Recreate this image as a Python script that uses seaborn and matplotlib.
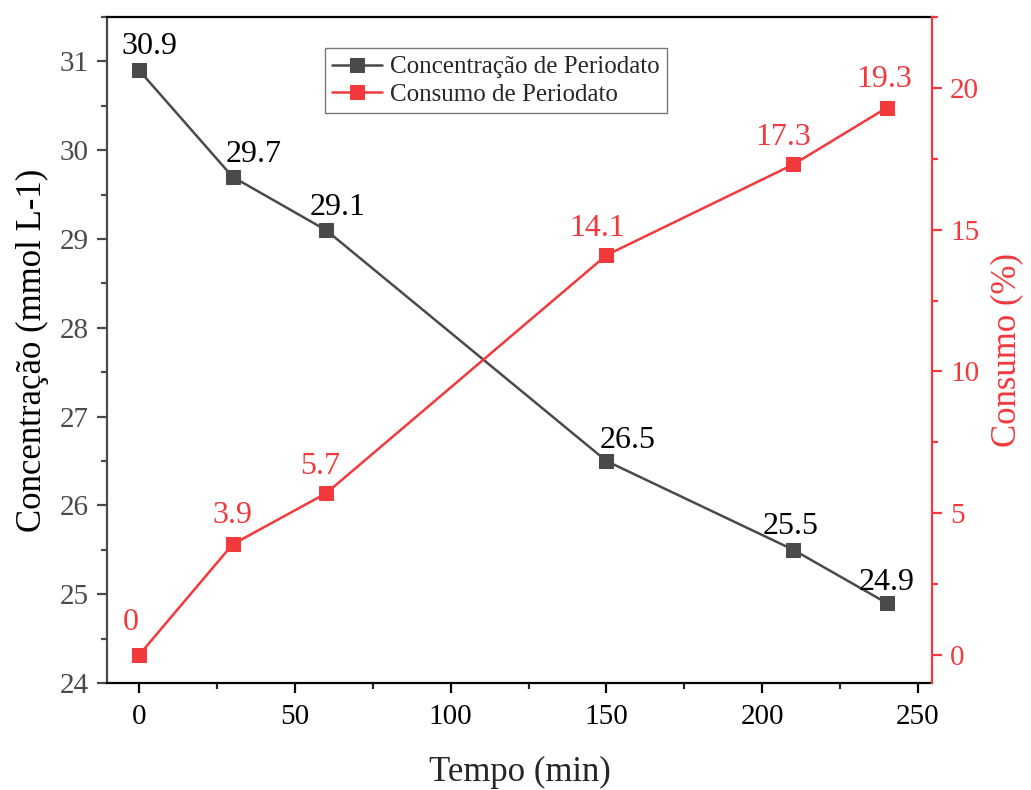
import matplotlib
matplotlib.use("Agg")
import matplotlib.pyplot as plt
import seaborn as sns
from matplotlib.ticker import MultipleLocator, AutoMinorLocator

# data
tempo = [0, 30, 60, 150, 210, 240]
concentracao = [30.9, 29.7, 29.1, 26.5, 25.5, 24.9]
consumo = [0, 3.9, 5.7, 14.1, 17.3, 19.3]
conc_labels = ["30.9", "29.7", "29.1", "26.5", "25.5", "24.9"]
cons_labels = ["0", "3.9", "5.7", "14.1", "17.3", "19.3"]

# label offsets in pixels (dx, dy)
conc_offsets = [(10, 24), (21, 22), (12, 23), (21, 21), (-3, 23), (0, 21)]
cons_offsets = [(-8, 32), (0, 29), (-6, 27), (-9, 27), (-10, 27), (-3, 28)]

GRAY = "#4a4a4a"
RED = "#f2393c"

sns.set_style("ticks")
plt.rcParams["font.family"] = ["Liberation Serif", "DejaVu Serif"]

fig = plt.figure(figsize=(10.31, 7.9), dpi=100)
ax = fig.add_axes([0.1038, 0.1354, 0.8002, 0.8431])
ax2 = ax.twinx()

sns.lineplot(x=tempo, y=concentracao, ax=ax, color=GRAY, marker="s",
             markersize=10, markeredgecolor=GRAY, linewidth=1.8,
             label="Concentração de Periodato", legend=False)
sns.lineplot(x=tempo, y=consumo, ax=ax2, color=RED, marker="s",
             markersize=10, markeredgecolor=RED, linewidth=1.8,
             label="Consumo de Periodato", legend=False)

for x, y, t, (dx, dy) in zip(tempo, concentracao, conc_labels, conc_offsets):
    ax.annotate(t, (x, y), xytext=(dx, dy), textcoords="offset pixels",
                ha="center", va="center", fontsize=23, color="black")
for x, y, t, (dx, dy) in zip(tempo, consumo, cons_labels, cons_offsets):
    ax2.annotate(t, (x, y), xytext=(dx, dy), textcoords="offset pixels",
                 ha="center", va="center", fontsize=23, color=RED)

ax.set_xlim(-10.3, 254.5)
ax.set_ylim(24, 31.5)
ax2.set_ylim(-0.99, 22.5)

ax.xaxis.set_major_locator(MultipleLocator(50))
ax.xaxis.set_minor_locator(AutoMinorLocator(2))
ax.yaxis.set_major_locator(MultipleLocator(1))
ax.yaxis.set_minor_locator(AutoMinorLocator(2))
ax2.yaxis.set_major_locator(MultipleLocator(5))
ax2.yaxis.set_minor_locator(AutoMinorLocator(2))

ax.set_xlabel("Tempo (min)", fontsize=25, labelpad=19)
ax.set_ylabel("Concentração (mmol L-1)", fontsize=25, labelpad=8,
              color="black")
ax2.set_ylabel("Consumo (%)", fontsize=25, color=RED, labelpad=8)

ax.tick_params(axis="x", which="major", direction="out", length=7, width=1.6,
               labelsize=21, colors="black", pad=8)
ax.tick_params(axis="x", which="minor", direction="out", length=4, width=1.6)
ax.tick_params(axis="y", which="major", direction="out", length=7, width=1.6,
               labelsize=21, colors=GRAY, pad=6)
ax.tick_params(axis="y", which="minor", direction="out", length=4, width=1.6,
               colors=GRAY)
ax2.tick_params(axis="y", which="major", direction="out", length=7, width=1.6,
                labelsize=21, colors=RED, pad=6)
ax2.tick_params(axis="y", which="minor", direction="out", length=4, width=1.6,
                colors=RED)

for sp in ["top", "bottom"]:
    ax.spines[sp].set_color("black")
    ax.spines[sp].set_linewidth(1.6)
ax.spines["left"].set_color(GRAY)
ax.spines["left"].set_linewidth(1.6)
ax2.spines["right"].set_color(RED)
ax2.spines["right"].set_linewidth(1.6)
ax2.spines["top"].set_visible(False)
ax2.spines["left"].set_visible(False)
ax2.spines["bottom"].set_visible(False)
ax.spines["right"].set_visible(False)

h1, l1 = ax.get_legend_handles_labels()
h2, l2 = ax2.get_legend_handles_labels()
leg = ax.legend(h1 + h2, l1 + l2, loc="upper left",
                bbox_to_anchor=(0.264, 0.953), borderaxespad=0,
                fontsize=18, frameon=True, fancybox=False,
                edgecolor="#555555", handlelength=2.0, borderpad=0.3,
                labelspacing=0.2, handletextpad=0.3)
leg.get_frame().set_linewidth(1.0)
leg.set_zorder(10)

fig.savefig("out.png", dpi=100)
